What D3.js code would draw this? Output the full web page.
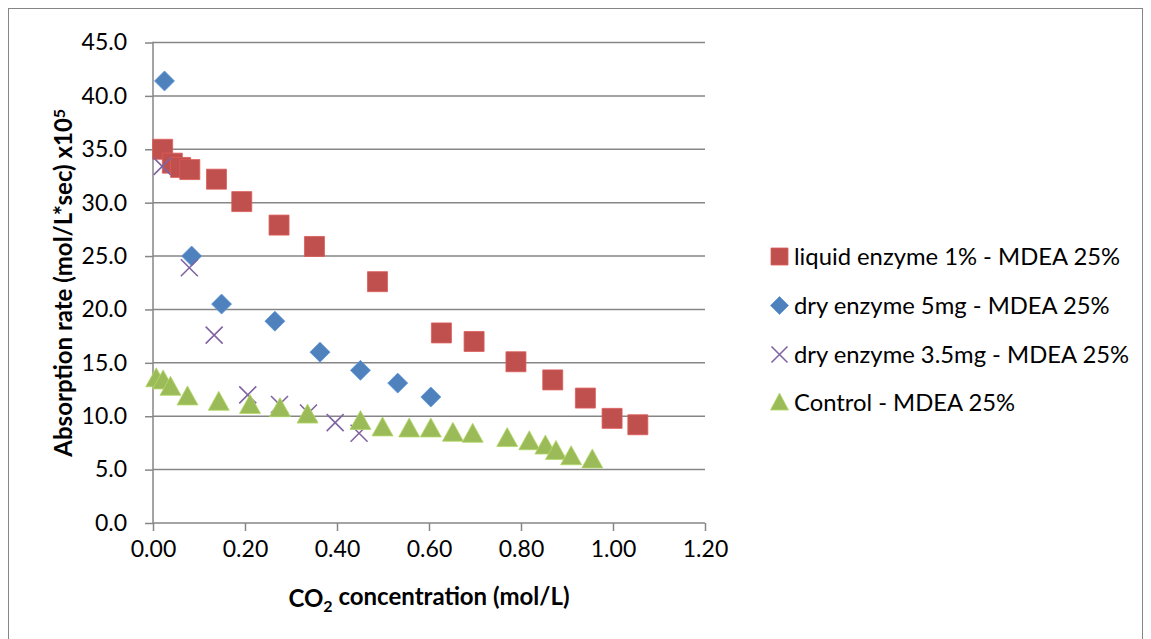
<!DOCTYPE html>
<html>
<head>
<meta charset="utf-8">
<script src="https://cdn.jsdelivr.net/npm/d3@7"></script>
<style>
  body { margin: 0; background: #fff; }
  svg { display: block; }
  text { font-family: Lato, "Open Sans", sans-serif; fill: #000; }
</style>
</head>
<body>
<svg id="chart" width="1151" height="639"></svg>
<script>
// Absorption rate vs CO2 concentration for four MDEA 25% solutions
const liquidX = [0.021, 0.042, 0.060, 0.080, 0.138, 0.193, 0.274, 0.351, 0.488, 0.627, 0.698, 0.789, 0.869, 0.940, 0.998, 1.054];
const liquidY = [35.0, 33.7, 33.3, 33.1, 32.2, 30.1, 27.9, 25.9, 22.6, 17.8, 17.0, 15.1, 13.4, 11.7, 9.8, 9.2];

const dry5X = [0.025, 0.084, 0.149, 0.265, 0.363, 0.451, 0.532, 0.604];
const dry5Y = [41.4, 25.0, 20.5, 18.9, 16.0, 14.3, 13.1, 11.8];

const dry35X = [0.020, 0.079, 0.133, 0.206, 0.275, 0.338, 0.396, 0.448];
const dry35Y = [33.4, 23.9, 17.6, 12.0, 11.1, 10.3, 9.4, 8.4];

const controlX = [0.007, 0.022, 0.038, 0.075, 0.143, 0.211, 0.276, 0.336, 0.451, 0.499, 0.557, 0.604, 0.652, 0.695, 0.770, 0.818, 0.853, 0.876, 0.909, 0.955];
const controlY = [13.6, 13.4, 12.8, 11.9, 11.4, 11.1, 10.8, 10.2, 9.6, 9.0, 8.9, 8.9, 8.5, 8.4, 8.0, 7.7, 7.3, 6.8, 6.3, 6.0];

const seriesNames = ["liquid enzyme 1% - MDEA 25%", "dry enzyme 5mg - MDEA 25%", "dry enzyme 3.5mg - MDEA 25%", "Control - MDEA 25%"];
const xTicks = [0, 0.2, 0.4, 0.6, 0.8, 1.0, 1.2];
const yTicks = [0, 5, 10, 15, 20, 25, 30, 35, 40, 45];

const series = [
  { name: seriesNames[0], xs: liquidX, ys: liquidY, shape: "square", color: "#C0504D" },
  { name: seriesNames[1], xs: dry5X, ys: dry5Y, shape: "diamond", color: "#4F81BD" },
  { name: seriesNames[2], xs: dry35X, ys: dry35Y, shape: "cross", color: "#8064A2" },
  { name: seriesNames[3], xs: controlX, ys: controlY, shape: "triangle", color: "#9BBB59" }
];

const svg = d3.select("#chart");
const plot = { left: 153, right: 705, top: 42.5, bottom: 523 };
const gridColor = "#868686";

// Outer chart frame
svg.append("rect")
  .attr("x", 8.5).attr("y", 8.5)
  .attr("width", 1134).attr("height", 700)
  .attr("fill", "none").attr("stroke", "#868686").attr("stroke-width", 1);

const x = d3.scaleLinear().domain([0, 1.2]).range([plot.left, plot.right]);
const y = d3.scaleLinear().domain([0, 45]).range([plot.bottom, plot.top]);

// Horizontal gridlines
svg.append("g").selectAll("line")
  .data(yTicks.filter(d => d > 0))
  .join("line")
  .attr("x1", plot.left).attr("x2", plot.right)
  .attr("y1", d => y(d)).attr("y2", d => y(d))
  .attr("stroke", gridColor).attr("stroke-width", 1.5);

// Axes
const yAxis = svg.append("g")
  .attr("transform", `translate(${plot.left},0)`)
  .call(d3.axisLeft(y).tickValues(yTicks).tickFormat(d3.format(".1f")).tickSize(8).tickPadding(18));
const xAxis = svg.append("g")
  .attr("transform", `translate(0,${plot.bottom})`)
  .call(d3.axisBottom(x).tickValues(xTicks).tickFormat(d3.format(".2f")).tickSize(8).tickPadding(10));

[xAxis, yAxis].forEach(g => {
  g.select(".domain").attr("stroke", gridColor).attr("stroke-width", 1.5);
  g.selectAll(".tick line").attr("stroke", gridColor).attr("stroke-width", 1.5);
  g.selectAll(".tick text").attr("font-size", 23).attr("font-family", "Lato, 'Open Sans', sans-serif").attr("fill", "#000");
});
yAxis.select(".domain").attr("d", `M0,${plot.bottom}V${plot.top - 0.75}`);
xAxis.select(".domain").attr("d", `M${plot.left},0H${plot.right}`);

// Marker shapes
function markerPath(shape, cx, cy) {
  switch (shape) {
    case "square": { const h = 10; return `M${cx - h},${cy - h}h${2 * h}v${2 * h}h${-2 * h}Z`; }
    case "diamond": { const h = 10; return `M${cx},${cy - h}L${cx + h},${cy}L${cx},${cy + h}L${cx - h},${cy}Z`; }
    case "triangle": { const w = 10.5, t = 10, b = 9; return `M${cx},${cy - t}L${cx + w},${cy + b}L${cx - w},${cy + b}Z`; }
    case "cross": { const h = 8.5; return `M${cx - h},${cy - h}L${cx + h},${cy + h}M${cx - h},${cy + h}L${cx + h},${cy - h}`; }
  }
}
function styleMarker(sel, s) {
  if (s.shape === "cross") {
    sel.attr("fill", "none").attr("stroke", s.color).attr("stroke-width", 1.6);
  } else {
    sel.attr("fill", s.color).attr("stroke", d3.color(s.color).brighter(0.4)).attr("stroke-width", 0.8);
  }
}

// Data points, drawn series by series
series.forEach(s => {
  const pts = s.xs.map((v, i) => ({ x: v, y: s.ys[i] }));
  svg.append("g").selectAll("path")
    .data(pts)
    .join("path")
    .attr("d", d => markerPath(s.shape, x(d.x), y(d.y)))
    .call(sel => styleMarker(sel, s));
});

// Legend
const legendRows = [256.5, 305.5, 354.5, 402];
const legend = svg.append("g");
series.forEach((s, i) => {
  const cy = legendRows[i];
  const m = legend.append("path");
  if (s.shape === "square") m.attr("d", `M${771},${cy - 8.5}h17v17h-17Z`);
  else if (s.shape === "diamond") m.attr("d", `M${779.5},${cy - 9}L${788.5},${cy}L${779.5},${cy + 9}L${770.5},${cy}Z`);
  else if (s.shape === "cross") m.attr("d", `M${771.5},${cy - 8}L${787.5},${cy + 8}M${771.5},${cy + 8}L${787.5},${cy - 8}`);
  else m.attr("d", `M${779.5},${cy - 9}L${788.5},${cy + 8}L${770.5},${cy + 8}Z`);
  styleMarker(m, s);
  legend.append("text")
    .attr("x", 794).attr("y", cy)
    .attr("dy", "0.36em")
    .attr("font-size", 23.8)
    .text(s.name);
});

// Axis titles
const yTitle = svg.append("text")
  .attr("transform", `translate(72,${(plot.top + plot.bottom) / 2}) rotate(-90)`)
  .attr("text-anchor", "middle")
  .attr("font-size", 24).attr("font-weight", "bold");
yTitle.append("tspan").text("Absorption rate (mol/L*sec) x10");
yTitle.append("tspan").attr("dy", "-0.45em").attr("font-size", 16).text("5");

const xTitle = svg.append("text")
  .attr("x", (plot.left + plot.right) / 2).attr("y", 607)
  .attr("text-anchor", "middle")
  .attr("font-size", 24).attr("font-weight", "bold");
xTitle.append("tspan").text("CO");
xTitle.append("tspan").attr("dy", "0.3em").attr("font-size", 16).text("2");
xTitle.append("tspan").attr("dy", "-0.3em").text(" concentration (mol/L)");
</script>
</body>
</html>
